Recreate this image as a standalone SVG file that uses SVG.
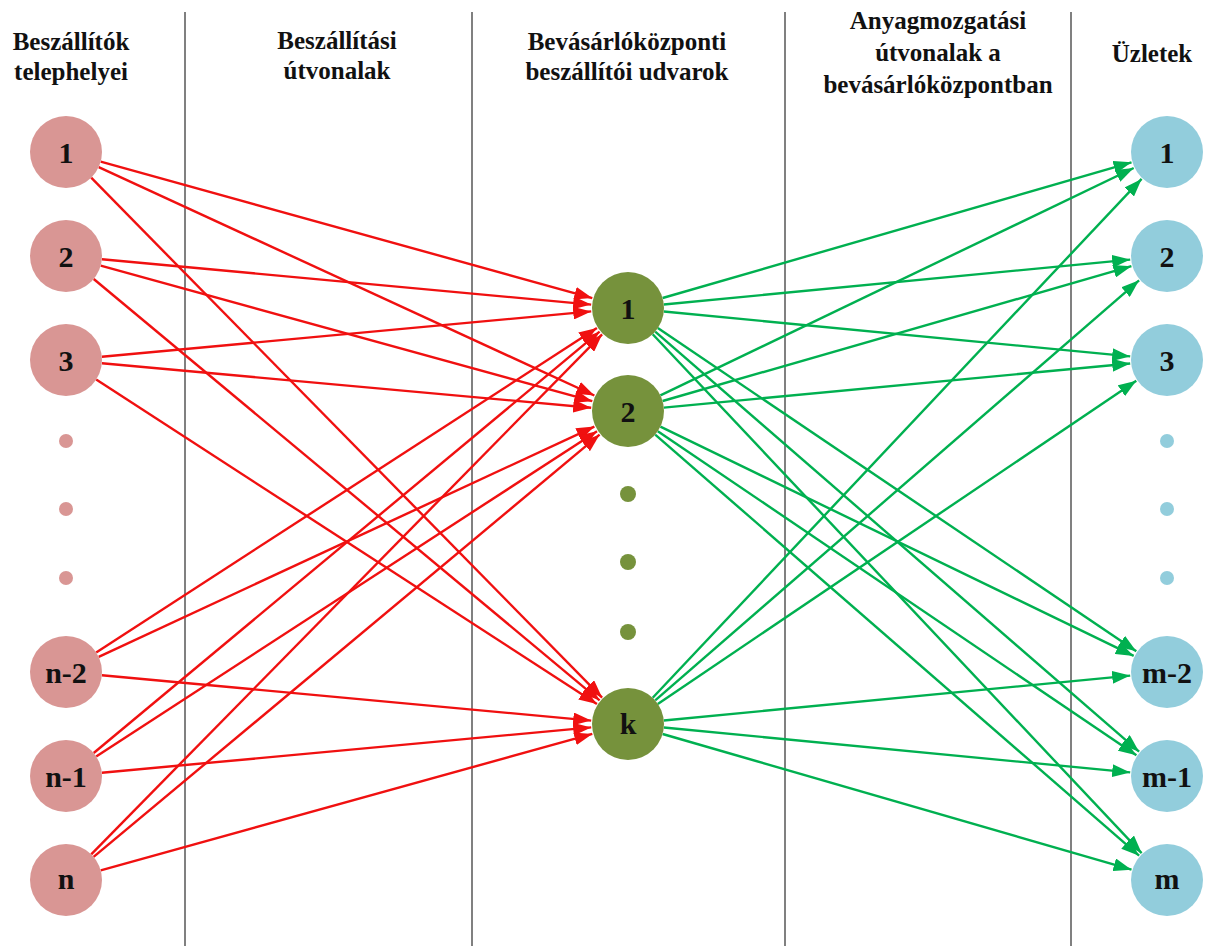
<svg xmlns="http://www.w3.org/2000/svg" width="1217" height="946" viewBox="0 0 1217 946">
<style>
.hdr{font-family:"Liberation Serif","Times New Roman",serif;font-weight:bold;font-size:25px;fill:#111;text-anchor:middle}
.lbl{font-family:"Liberation Serif","Times New Roman",serif;font-weight:bold;font-size:30px;fill:#111;text-anchor:middle;dominant-baseline:central}
.sep{stroke:#808080;stroke-width:2}
.red{stroke:#F01010;stroke-width:2.4;fill:none;marker-end:url(#ar)}
.grn{stroke:#00B050;stroke-width:2.4;fill:none;marker-end:url(#ag)}
.pk{fill:#D99694}
.ol{fill:#76923C}
.bl{fill:#92CDDC}
</style>
<defs>
<marker id="ar" markerUnits="userSpaceOnUse" markerWidth="18" markerHeight="13" refX="18" refY="6.5" orient="auto"><path d="M0,0 L18,6.5 L0,13 z" fill="#F01010"/></marker>
<marker id="ag" markerUnits="userSpaceOnUse" markerWidth="18" markerHeight="13" refX="18" refY="6.5" orient="auto"><path d="M0,0 L18,6.5 L0,13 z" fill="#00B050"/></marker>
</defs>
<rect width="1217" height="946" fill="#fff"/>
<g id="separators">
<line class="sep" x1="185" y1="12" x2="185" y2="946"/>
<line class="sep" x1="472" y1="12" x2="472" y2="946"/>
<line class="sep" x1="785" y1="12" x2="785" y2="946"/>
<line class="sep" x1="1071" y1="12" x2="1071" y2="946"/>
</g>
<g id="headers">
<text class="hdr" x="71" y="50">Beszállítók</text>
<text class="hdr" x="71" y="80">telephelyei</text>
<text class="hdr" x="337" y="49">Beszállítási</text>
<text class="hdr" x="337" y="79">útvonalak</text>
<text class="hdr" x="627" y="50">Bevásárlóközponti</text>
<text class="hdr" x="627" y="80">beszállítói udvarok</text>
<text class="hdr" x="938" y="29">Anyagmozgatási</text>
<text class="hdr" x="938" y="61">útvonalak a</text>
<text class="hdr" x="938" y="93">bevásárlóközpontban</text>
<text class="hdr" x="1152" y="62">Üzletek</text>
</g>
<g id="connectors">
<line class="red" x1="100.7" y1="161.6" x2="592.3" y2="298.1"/>
<line class="red" x1="98.7" y1="167.1" x2="594.4" y2="395.5"/>
<line class="red" x1="91.2" y1="177.7" x2="602.1" y2="697.6"/>
<line class="red" x1="101.8" y1="259.3" x2="591.2" y2="304.6"/>
<line class="red" x1="100.7" y1="265.6" x2="592.3" y2="401.2"/>
<line class="red" x1="93.7" y1="279.0" x2="599.6" y2="700.3"/>
<line class="red" x1="101.8" y1="356.7" x2="591.2" y2="311.4"/>
<line class="red" x1="101.9" y1="363.3" x2="591.2" y2="407.7"/>
<line class="red" x1="96.2" y1="379.6" x2="596.9" y2="703.9"/>
<line class="red" x1="96.2" y1="652.4" x2="596.9" y2="328.1"/>
<line class="red" x1="98.7" y1="656.8" x2="594.4" y2="426.6"/>
<line class="red" x1="101.8" y1="675.3" x2="591.2" y2="720.6"/>
<line class="red" x1="93.7" y1="753.0" x2="599.6" y2="331.7"/>
<line class="red" x1="96.2" y1="756.4" x2="597.0" y2="431.2"/>
<line class="red" x1="101.8" y1="772.7" x2="591.2" y2="727.4"/>
<line class="red" x1="91.2" y1="854.3" x2="602.1" y2="334.4"/>
<line class="red" x1="93.6" y1="856.9" x2="599.6" y2="434.7"/>
<line class="red" x1="100.7" y1="870.4" x2="592.3" y2="733.9"/>
<line class="grn" x1="662.6" y1="298.0" x2="1131.5" y2="162.3"/>
<line class="grn" x1="663.8" y1="304.5" x2="1130.2" y2="259.6"/>
<line class="grn" x1="663.8" y1="311.5" x2="1130.2" y2="356.4"/>
<line class="grn" x1="657.8" y1="328.1" x2="1136.3" y2="651.3"/>
<line class="grn" x1="655.2" y1="331.6" x2="1139.1" y2="751.7"/>
<line class="grn" x1="652.7" y1="334.2" x2="1141.6" y2="853.1"/>
<line class="grn" x1="660.4" y1="395.4" x2="1133.7" y2="168.0"/>
<line class="grn" x1="662.6" y1="401.0" x2="1131.4" y2="266.2"/>
<line class="grn" x1="663.8" y1="407.6" x2="1130.2" y2="363.5"/>
<line class="grn" x1="660.4" y1="426.7" x2="1133.7" y2="655.9"/>
<line class="grn" x1="657.8" y1="431.2" x2="1136.4" y2="755.3"/>
<line class="grn" x1="655.2" y1="434.6" x2="1139.1" y2="855.7"/>
<line class="grn" x1="652.7" y1="697.8" x2="1141.6" y2="178.9"/>
<line class="grn" x1="655.2" y1="700.4" x2="1139.1" y2="280.3"/>
<line class="grn" x1="657.8" y1="703.9" x2="1136.3" y2="380.7"/>
<line class="grn" x1="663.8" y1="720.5" x2="1130.2" y2="675.6"/>
<line class="grn" x1="663.8" y1="727.5" x2="1130.2" y2="772.4"/>
<line class="grn" x1="662.6" y1="734.0" x2="1131.5" y2="869.7"/>
</g>
<g id="s1"><circle class="pk" cx="66" cy="152" r="36"/><text class="lbl" x="66" y="152">1</text></g>
<g id="s2"><circle class="pk" cx="66" cy="256" r="36"/><text class="lbl" x="66" y="256">2</text></g>
<g id="s3"><circle class="pk" cx="66" cy="360" r="36"/><text class="lbl" x="66" y="360">3</text></g>
<g id="s-dots"><circle class="pk" cx="66" cy="441" r="7"/><circle class="pk" cx="66" cy="509" r="7"/><circle class="pk" cx="66" cy="578" r="7"/></g>
<g id="s-n2"><circle class="pk" cx="66" cy="672" r="36"/><text class="lbl" x="66" y="672">n-2</text></g>
<g id="s-n1"><circle class="pk" cx="66" cy="776" r="36"/><text class="lbl" x="66" y="776">n-1</text></g>
<g id="s-n"><circle class="pk" cx="66" cy="880" r="36"/><text class="lbl" x="66" y="878">n</text></g>
<g id="y1"><circle class="ol" cx="628" cy="308" r="36"/><text class="lbl" x="628" y="308">1</text></g>
<g id="y2"><circle class="ol" cx="628" cy="411" r="36"/><text class="lbl" x="628" y="411">2</text></g>
<g id="y-dots"><circle class="ol" cx="628" cy="494" r="8"/><circle class="ol" cx="628" cy="562" r="8"/><circle class="ol" cx="628" cy="632" r="8"/></g>
<g id="yk"><circle class="ol" cx="628" cy="724" r="36"/><text class="lbl" x="628" y="723">k</text></g>
<g id="r1"><circle class="bl" cx="1167" cy="152" r="36"/><text class="lbl" x="1167" y="152">1</text></g>
<g id="r2"><circle class="bl" cx="1167" cy="256" r="36"/><text class="lbl" x="1167" y="256">2</text></g>
<g id="r3"><circle class="bl" cx="1167" cy="360" r="36"/><text class="lbl" x="1167" y="360">3</text></g>
<g id="r-dots"><circle class="bl" cx="1167" cy="441" r="7"/><circle class="bl" cx="1167" cy="509" r="7"/><circle class="bl" cx="1167" cy="578" r="7"/></g>
<g id="r-m2"><circle class="bl" cx="1167" cy="672" r="36"/><text class="lbl" x="1167" y="672">m-2</text></g>
<g id="r-m1"><circle class="bl" cx="1167" cy="776" r="36"/><text class="lbl" x="1167" y="776">m-1</text></g>
<g id="r-m"><circle class="bl" cx="1167" cy="880" r="36"/><text class="lbl" x="1167" y="878">m</text></g>
</svg>
